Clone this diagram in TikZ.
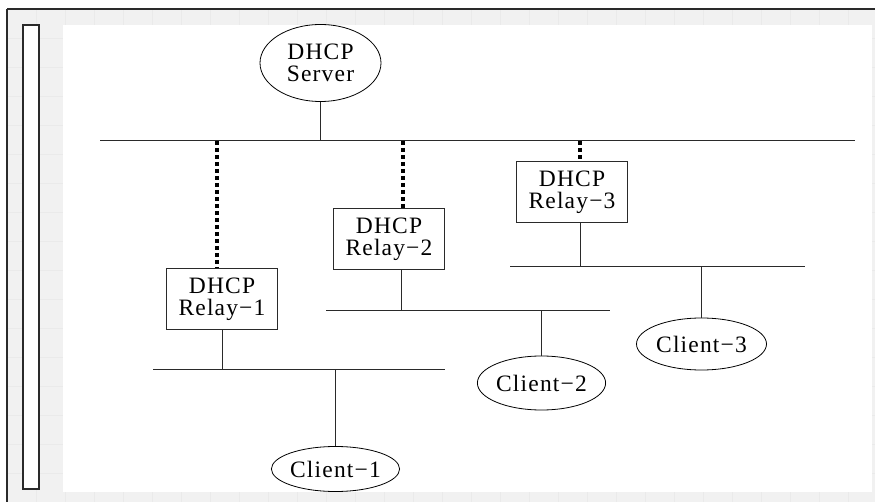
\documentclass[tikz,border=0pt]{standalone}
\usepackage{fontspec}
\setmainfont{Liberation Serif}[LetterSpace=5]
\usetikzlibrary{shapes.geometric}
\definecolor{panel}{HTML}{F1F1F1}
\definecolor{gridc}{HTML}{EAEAEA}
\definecolor{ink}{HTML}{2A2A2A}
\tikzset{
  lbl/.style={font=\fontsize{23.5}{22}\selectfont, align=center, text=black},
  hostnode/.style={lbl, ellipse, draw=black, line width=0.8pt, inner sep=0pt},
  relaybox/.style={lbl, rectangle, draw=ink, line width=1.1pt, minimum width=111pt, minimum height=61pt, inner sep=0pt},
  wire/.style={draw=ink, line width=1pt},
  relaylink/.style={draw=black, line width=4pt, dash pattern=on 4pt off 3pt}
}
\begin{document}
\begin{tikzpicture}[x=1pt,y=-1pt]
\useasboundingbox (0,0) rectangle (875,502);
% window background with faint grid
\fill[panel] (7,9) rectangle (875,502);
\foreach \gx in {36,65,94,123,152,181,210,239,268,297,326,355,384,413,442,471,500,529,558,587,616,645,674,703,732,761,790,819,848}
  \draw[gridc, line width=0.4pt] (\gx,10) -- (\gx,502);
\foreach \gy in {38,67,96,125,154,183,212,241,270,299,328,357,386,415,444,473}
  \draw[gridc, line width=0.4pt] (7,\gy) -- (875,\gy);
% drawing canvas
\fill[white] (63,25) rectangle (872,492);
% frame edges and side bar
\draw[ink, line width=2pt] (7,9.5) -- (875,9.5);
\draw[ink, line width=2pt] (7,9) -- (7,502);
\draw[ink, line width=1.5pt, fill=white] (23,25) rectangle (39,489);

% main network
\node[hostnode, minimum width=121pt, minimum height=77pt] (server) at (320.5,63) {DHCP\\Server};
\coordinate (busL) at (100,140.5);
\coordinate (busR) at (855,140.5);
\draw[wire] (busL) -- (busR);
\draw[wire] (server.south) -- (server.south |- busL);

% relays
\node[relaybox] (relay1) at (222,299) {DHCP\\Relay−1};
\node[relaybox] (relay2) at (389,239) {DHCP\\Relay−2};
\node[relaybox] (relay3) at (572,192) {DHCP\\Relay−3};

\coordinate (d1) at (217,141);
\coordinate (d2) at (403,141);
\coordinate (d3) at (580,141);
\draw[relaylink] (d1) -- (d1 |- relay1.north);
\draw[relaylink] (d2) -- (d2 |- relay2.north);
\draw[relaylink] (d3) -- (d3 |- relay3.north);

% subnets
\coordinate (lan1a) at (153,369.5);
\coordinate (lan1b) at (445,369.5);
\coordinate (lan2a) at (326,310.5);
\coordinate (lan2b) at (610,310.5);
\coordinate (lan3a) at (510,266.5);
\coordinate (lan3b) at (805,266.5);
\draw[wire] (lan1a) -- (lan1b);
\draw[wire] (lan2a) -- (lan2b);
\draw[wire] (lan3a) -- (lan3b);
\draw[wire] ([xshift=0.5pt]relay1.south) -- ([xshift=0.5pt]relay1.south |- lan1a);
\draw[wire] ([xshift=12.5pt]relay2.south) -- ([xshift=12.5pt]relay2.south |- lan2a);
\draw[wire] ([xshift=8.5pt]relay3.south) -- ([xshift=8.5pt]relay3.south |- lan3a);

% clients
\node[hostnode, minimum width=123pt, minimum height=45pt] (client1) at (335.5,469) {Client−1};
\node[hostnode, minimum width=127pt, minimum height=54pt] (client2) at (541.5,383) {Client−2};
\node[hostnode, minimum width=130pt, minimum height=52pt] (client3) at (701.5,344) {Client−3};
\draw[wire] (client1.north) -- (client1.north |- lan1a);
\draw[wire] (client2.north) -- (client2.north |- lan2a);
\draw[wire] (client3.north) -- (client3.north |- lan3a);
\end{tikzpicture}
\end{document}
